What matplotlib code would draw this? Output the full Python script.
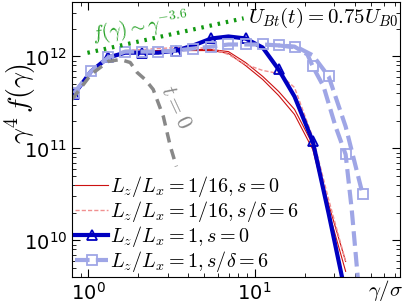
import numpy as np
import matplotlib
matplotlib.use('Agg')
import matplotlib.pyplot as plt

plt.rcParams['mathtext.fontset'] = 'cm'

# gamma/sigma grid
g = [0.82, 1.04, 1.32, 1.67, 2.11, 2.64, 3.39, 4.29, 5.51, 6.97, 8.83,
     11.2, 13.95, 17.4, 22.4, 27.9, 35.3]

# Lz/Lx = 1/16, s = 0 (two close curves)
red_a = [3.96e11, 6.87e11, 9.75e11, 1.13e12, 1.13e12, 1.16e12, 1.19e12, 1.19e12,
         1.19e12, 1.13e12, 8.6e11, 6.07e11, 4.17e11, 2.66e11, 1.10e11, 2.46e10, 5.9e9]
red_b = [3.96e11, 6.87e11, 9.75e11, 1.13e12, 1.13e12, 1.16e12, 1.16e12, 1.16e12,
         1.16e12, 1.08e12, 7.98e11, 5.62e11, 3.77e11, 2.34e11, 9.75e10, 2.07e10, 4.6e9]
# Lz/Lx = 1/16, s/delta = 6
pink = [3.96e11, 6.87e11, 9.75e11, 1.16e12, 1.19e12, 1.22e12, 1.25e12, 1.25e12,
        1.22e12, 1.05e12, 8.2e11, 7.05e11, 6.53e11, 4.60e11, 1.32e11, 2.79e10, 5.9e9]
# Lz/Lx = 1, s = 0
blue = [3.86e11, 6.87e11, 9.75e11, 1.10e12, 1.10e12, 1.10e12, 1.16e12, 1.32e12,
        1.57e12, 1.65e12, 1.57e12, 1.25e12, 7.23e11, 3.67e11, 1.19e11, 1.96e10, 2.59e9]

# Lz/Lx = 1, s/delta = 6 (two close curves)
g_lb1 = [0.82, 1.04, 1.32, 1.67, 2.11, 2.64, 3.39, 4.29, 5.51, 6.97, 8.83,
         11.2, 13.95, 17.4, 20.8, 22.4, 26.0, 30.7, 35.3, 38.4, 41.7, 44.7]
lb1 = [3.96e11, 6.87e11, 9.75e11, 1.13e12, 1.13e12, 1.13e12, 1.16e12, 1.22e12,
       1.28e12, 1.35e12, 1.35e12, 1.35e12, 1.32e12, 1.28e12, 1.05e12, 7.78e11,
       4.72e11, 1.73e11, 8.6e10, 2.17e10, 4.06e9, 1.08e9]
g_lb2 = [13.95, 18.2, 22.4, 27.9, 35.3, 44.7]
lb2 = [1.32e12, 1.25e12, 1.03e12, 6.07e11, 1.73e11, 3.16e10]

# t = 0 spectrum
g_t0 = [0.80, 1.04, 1.32, 1.56, 1.79, 1.97, 2.20, 2.46, 2.83, 3.12, 3.39]
y_t0 = [3.41e11, 6.37e11, 8.83e11, 9.27e11, 8.6e11, 6.70e11, 5.62e11, 4.38e11,
        2.23e11, 1.05e11, 6.37e10]

# power law guide gamma^4 * gamma^-3.6
g_pl = np.array([0.99, 8.6])
y_pl = 1.1e12 * g_pl**0.4

fig = plt.figure(figsize=(4.07, 3.05), dpi=100)
ax = fig.add_axes([0.177, 0.092, 0.806, 0.901])

c_red = '#cc1111'
c_pink = '#f09090'
c_blue = '#0000c0'
c_lb = '#9fa6e6'

ax.plot(g, red_a, color=c_red, lw=0.8, label=r'$L_z/L_x=1/16, s=0$')
ax.plot(g, red_b, color=c_red, lw=0.8)
ax.plot(g, pink, color=c_pink, lw=1.0, ls=(0, (3, 1.5)), label=r'$L_z/L_x=1/16, s/\delta=6$')
ax.plot(g, blue, color=c_blue, lw=3, marker='^', ms=7, mfc='none', mew=1.3,
        markevery=2, label=r'$L_z/L_x=1, s=0$')
ax.plot(g_lb1, lb1, color=c_lb, lw=3, ls=(0, (3.5, 1.5)), marker='s', ms=7, mfc='none', mew=1.3,
        markevery=[0, 1, 2, 3, 4, 5, 6, 7, 8, 9, 10, 11, 12, 13, 15, 18],
        label=r'$L_z/L_x=1, s/\delta=6$')
ax.plot(g_lb2, lb2, color=c_lb, lw=3, ls=(0, (3.5, 1.5)), marker='s', ms=7, mfc='none', mew=1.3,
        markevery=[3, 5])
ax.plot(g_t0, y_t0, color='#888888', lw=2.5, ls=(0, (3, 2)))
ax.plot(g_pl, y_pl, color='#119911', lw=3, ls=(0, (0.6, 1.4)))

ax.text(3.35, 2.79e11, r'$t=0$', color='#888888', fontsize=16, rotation=-65,
        ha='center', va='center')
ax.text(1.07, 1.52e12, r'$f(\gamma)\sim\gamma^{-3.6}$', color='#22a022', fontsize=14,
        rotation=9, rotation_mode='anchor', ha='left', va='baseline')
ax.text(0.995, 0.985, r'$U_{Bt}(t)=0.75U_{B0}$', transform=ax.transAxes,
        fontsize=15, ha='right', va='top')

ax.set_xscale('log')
ax.set_yscale('log')
ax.set_xlim(0.8, 75)
ax.set_ylim(4e9, 3.9e12)
ax.tick_params(which='both', direction='in', top=True, right=True, labelsize=14)
ax.tick_params(which='major', length=6)
ax.tick_params(which='minor', length=3)

ax.set_ylabel(r'$\gamma^4\, f(\gamma)$', fontsize=20)
ax.yaxis.set_label_coords(-0.105, 0.63)
ax.set_xlabel(r'$\gamma/\sigma$', fontsize=15)
ax.xaxis.set_label_coords(0.955, -0.005)

ax.legend(loc='lower left', frameon=False, fontsize=14.5, handlelength=1.65,
          handletextpad=0.1, labelspacing=0.0, borderaxespad=0.05, borderpad=0.1,
          numpoints=1, markerscale=1)

fig.savefig('out.png', dpi=100)
